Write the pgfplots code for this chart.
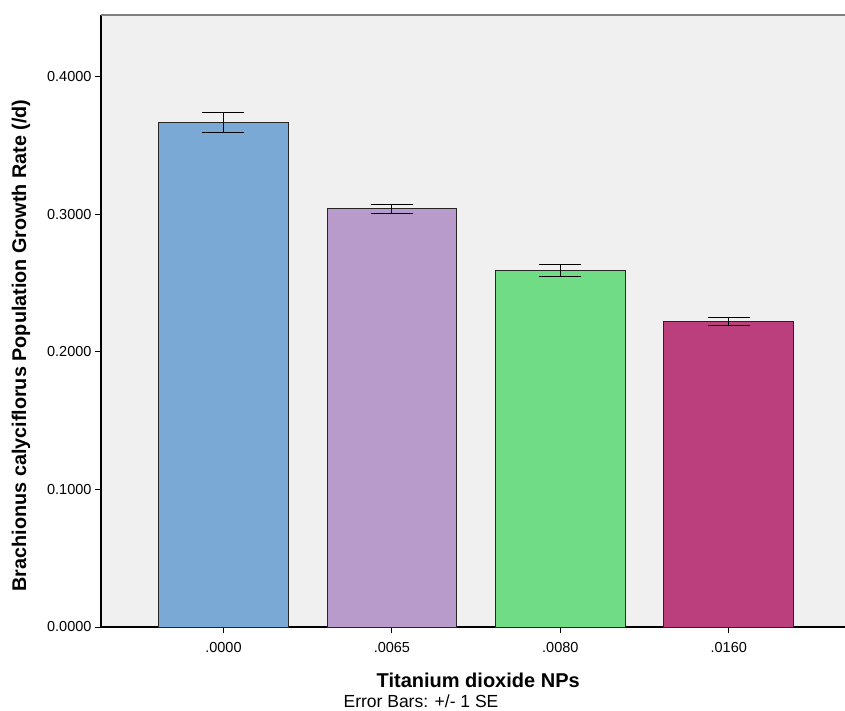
\documentclass[border=0pt]{standalone}
\usepackage{pgfplots}
\pgfplotsset{compat=1.18}
\usepackage{fontspec}
\setmainfont{Liberation Sans}
\definecolor{bg}{HTML}{F0F0F0}
\definecolor{c1}{HTML}{7BA9D6}
\definecolor{c2}{HTML}{B89BCA}
\definecolor{c3}{HTML}{70DD86}
\definecolor{c4}{HTML}{BA3F7C}
\begin{document}
\begin{tikzpicture}[x=1pt,y=1pt]
\begin{axis}[
  scale only axis, width=744pt, height=612pt,
  xmin=-0.727, xmax=3.69, ymin=0, ymax=0.445,
  axis x line*=bottom, axis y line*=left,
  axis line style={black, line width=1.2pt, -},
  axis background/.style={fill=bg},
  xtick={0,1,2,3}, xticklabels={.0000,.0065,.0080,.0160},
  ytick={0,0.1,0.2,0.3,0.4},
  yticklabel style={/pgf/number format/.cd, fixed, fixed zerofill, precision=4},
  /pgf/number format/assume math mode=true,
  tick align=outside, tick style={black, line width=1pt}, major tick length=6pt,
  ticklabel style={font=\fontsize{14.5}{14.5}\selectfont},
  xticklabel style={yshift=-6pt},
  ylabel={\bfseries Brachionus calyciflorus Population Growth Rate (/d)},
  every axis y label/.style={at={(rel axis cs:0,0.460)}, xshift=-80pt, rotate=90, anchor=center, font=\fontsize{19.8}{19.8}\selectfont},
  xlabel={\bfseries Titanium dioxide NPs},
  every axis x label/.style={at={(rel axis cs:0.507,0)}, yshift=-53pt, anchor=center, font=\fontsize{20}{20}\selectfont},
  ybar, bar width=0.77, bar shift=0pt,
  every axis plot/.append style={draw=black!85, line width=1pt},
  error bars/y dir=both, error bars/y explicit,
  error bars/error mark=|,
  error bars/error bar style={black, line width=1pt},
  error bars/error mark options={black, line width=1pt, mark size=21pt},
  clip=false,
  after end axis/.code={\draw[gray, line width=1.5pt] (rel axis cs:0,1) -- (rel axis cs:1,1);},
]
\coordinate (O) at (rel axis cs:0,0);
\addplot[fill=c1] coordinates {(0,0.3665) +- (0,0.0073)};
\addplot[fill=c2] coordinates {(1,0.3040) +- (0,0.0033)};
\addplot[fill=c3] coordinates {(2,0.2589) +- (0,0.0044)};
\addplot[fill=c4] coordinates {(3,0.2218) +- (0,0.0029)};
\end{axis}
\node[font=\fontsize{17.5}{17.5}\selectfont, anchor=center] at ([shift={(320,-74)}]O) {Error Bars: +/- 1 SE};
\pgfresetboundingbox
\path[use as bounding box] ([shift={(-101,-83)}]O) rectangle ([shift={(744,627)}]O);
\end{tikzpicture}
\end{document}
